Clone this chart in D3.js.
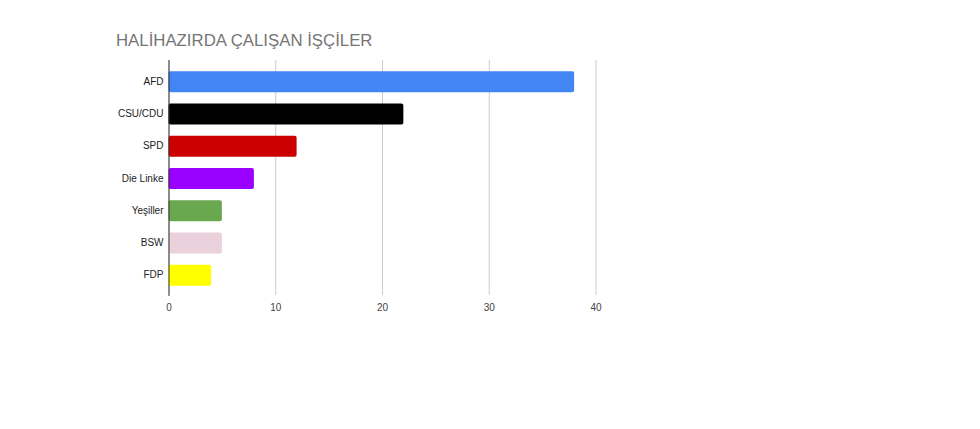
<!DOCTYPE html>
<html>
<head>
<meta charset="utf-8">
<script src="https://cdn.jsdelivr.net/npm/d3@7"></script>
<style>
  body { margin: 0; background: #fff; }
  text { font-family: "Liberation Sans", Arial, sans-serif; }
</style>
</head>
<body>
<script>
var parties = ["AFD", "CSU/CDU", "SPD", "Die Linke", "Yeşiller", "BSW", "FDP"];
var workers = [38, 22, 12, 8, 5, 5, 4];
var colors = ["#4285f4", "#000000", "#cc0000", "#9900ff", "#6aa84f", "#ead1dc", "#ffff00"];
var ticks = [0, 10, 20, 30, 40];
var title = "HALİHAZIRDA ÇALIŞAN İŞÇİLER";

var width = 980,
    height = 429;

var svg = d3.select("body").append("svg")
    .attr("width", width)
    .attr("height", height);

var x = d3.scaleLinear()
    .domain([0, 40])
    .range([168.5, 595.5]);

var y = d3.scaleBand()
    .domain(parties)
    .range([61, 296])
    .paddingInner(0.35)
    .paddingOuter(0.32);

svg.append("text")
    .attr("x", 116)
    .attr("y", 46)
    .attr("fill", "#757575")
    .style("font-size", "16.8px")
    .text(title);

// vertical gridlines
svg.append("g")
    .attr("transform", "translate(0,60)")
    .call(d3.axisBottom(x).tickValues(ticks).tickSize(235).tickFormat(""))
    .call(function (g) {
      g.select(".domain").remove();
      g.selectAll("line").attr("stroke", "#cccccc");
    });

// tick labels
svg.append("g")
    .attr("transform", "translate(0,295)")
    .call(d3.axisBottom(x).tickValues(ticks).tickSize(0).tickPadding(9))
    .call(function (g) {
      g.select(".domain").remove();
      g.selectAll("text")
        .attr("fill", "#444")
        .style("font-size", "10px")
        .style("font-family", "'Liberation Sans', Arial, sans-serif");
    });

svg.selectAll("rect.bar")
    .data(parties)
  .enter().append("rect")
    .attr("class", "bar")
    .attr("x", x(0))
    .attr("y", function (d) { return y(d); })
    .attr("width", function (d, i) { return x(workers[i]) - x(0); })
    .attr("height", y.bandwidth())
    .attr("rx", 2)
    .attr("fill", function (d, i) { return colors[i]; });

// category axis
svg.append("g")
    .attr("transform", "translate(" + x(0) + ",0)")
    .call(d3.axisLeft(y).tickSize(0).tickPadding(5))
    .call(function (g) {
      g.select(".domain")
        .attr("d", "M0.5,60V296")
        .attr("stroke", "#333");
      g.selectAll("text")
        .attr("fill", "#222")
        .style("font-size", "10px")
        .style("font-family", "'Liberation Sans', Arial, sans-serif");
    });
</script>
</body>
</html>
